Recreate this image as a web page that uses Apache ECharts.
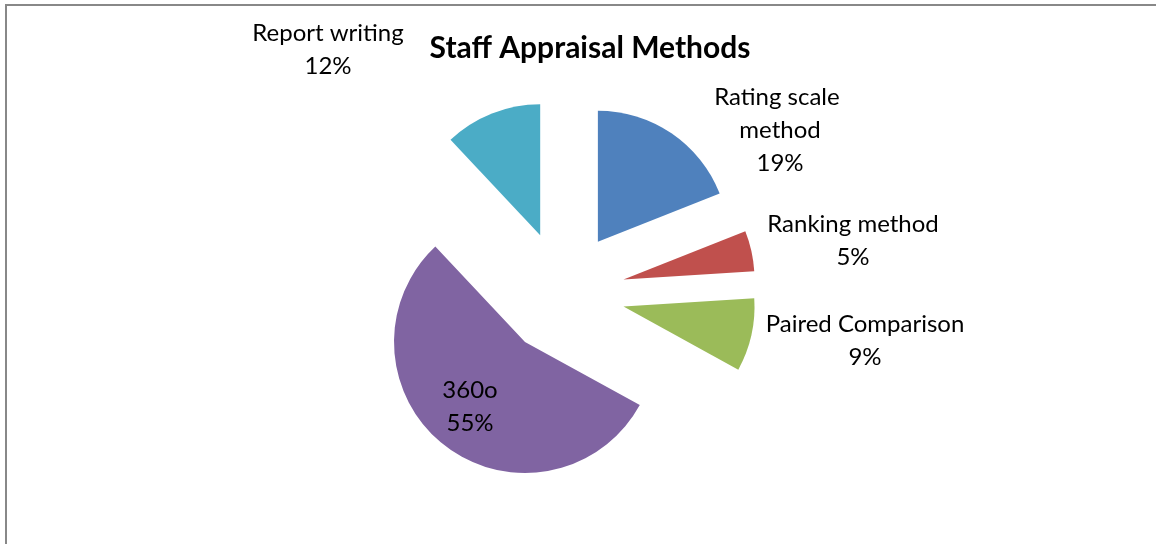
<!DOCTYPE html>
<html>
<head>
<meta charset="utf-8">
<script src="https://cdn.jsdelivr.net/npm/echarts@6/dist/echarts.min.js"></script>
<style>
  html, body { margin: 0; padding: 0; background: #fff; }
  #main { width: 1156px; height: 544px; }
</style>
</head>
<body>
<div id="main"></div>
<script>
// data
const categories = ['Rating scale method', 'Ranking method', 'Paired Comparison', '360o', 'Report writing'];
const values = [19, 5, 9, 55, 12];
const colors = ['#4F81BD', '#C0504D', '#9BBB59', '#8064A2', '#4BACC6'];

// where each label block sits (centre of the text)
const labelSpots = [[780, 130], [853, 241], [865, 341], [470, 407], [328, 50]];

const chart = echarts.init(document.getElementById('main'));

const pieCenter = [563, 293];
const pieRadius = 131;

chart.setOption({
  animation: false,
  title: {
    text: 'Staff Appraisal Methods',
    left: 585,
    top: 28,
    textAlign: 'center',
    textStyle: { fontFamily: 'Lato', fontWeight: 'bold', fontSize: 30, color: '#000' }
  },
  graphic: [{
    type: 'rect',
    shape: { x: 6, y: 5, width: 1160, height: 560 },
    style: { fill: 'none', stroke: '#888', lineWidth: 2 },
    silent: true
  }],
  series: [{
    // exploded slices
    type: 'pie',
    center: pieCenter,
    radius: pieRadius,
    startAngle: 90,
    clockwise: true,
    selectedMode: 'multiple',
    selectedOffset: 62,
    emphasis: { disabled: true },
    label: { show: false },
    labelLine: { show: false },
    data: categories.map(function (name, i) {
      return { name: name, value: values[i], selected: true, itemStyle: { color: colors[i] } };
    })
  }, {
    // same data, invisible, only carries the labels
    type: 'pie',
    center: pieCenter,
    radius: pieRadius,
    startAngle: 90,
    clockwise: true,
    silent: true,
    z: 3,
    percentPrecision: 0,
    itemStyle: { color: 'rgba(0,0,0,0)' },
    label: {
      show: true,
      position: 'outside',
      formatter: '{b}\n{d}%',
      fontFamily: 'Lato',
      fontSize: 24,
      lineHeight: 33,
      color: '#000',
      align: 'center'
    },
    labelLine: { show: false },
    labelLayout: function (p) {
      const s = labelSpots[p.dataIndex];
      return { x: s[0], y: s[1], align: 'center', verticalAlign: 'middle' };
    },
    data: categories.map(function (name, i) {
      const item = { name: name, value: values[i] };
      if (i === 0) item.label = { width: 140, overflow: 'break' };
      return item;
    })
  }]
});
</script>
</body>
</html>
